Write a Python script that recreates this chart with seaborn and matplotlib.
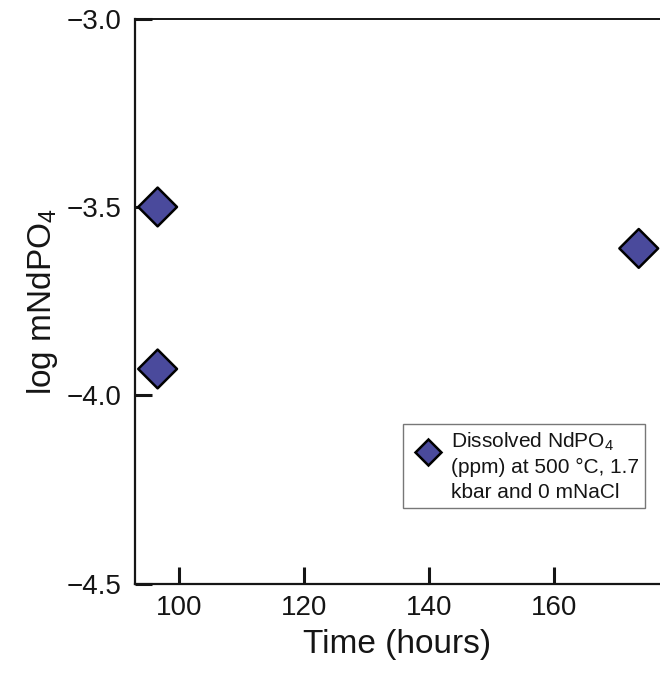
import matplotlib
matplotlib.use("Agg")
import matplotlib.pyplot as plt
import seaborn as sns
import pandas as pd
import numpy as np
from matplotlib.collections import PathCollection
from matplotlib.legend_handler import HandlerPathCollection, HandlerLine2D
from matplotlib.lines import Line2D

time_hours = [96.5, 96.5, 173.5]
log_m_ndpo4 = [-3.50, -3.93, -3.61]
series_label = "Dissolved NdPO$_4$\n(ppm) at 500 °C, 1.7\nkbar and 0 mNaCl"
x_ticks = [100, 120, 140, 160]
y_ticks = [-3.0, -3.5, -4.0, -4.5]

df = pd.DataFrame({"time": time_hours, "logm": log_m_ndpo4,
                   "series": [series_label] * len(time_hours)})

sns.set_style("ticks")
plt.rcParams["font.family"] = ["Liberation Sans", "DejaVu Sans"]
plt.rcParams["mathtext.fontset"] = "custom"
plt.rcParams["mathtext.rm"] = "Liberation Sans"
plt.rcParams["mathtext.it"] = "Liberation Sans"
ink = "#151515"
plt.rcParams["text.color"] = ink
plt.rcParams["axes.labelcolor"] = ink
plt.rcParams["xtick.color"] = ink
plt.rcParams["ytick.color"] = ink

fig = plt.figure(figsize=(6.6, 6.73), dpi=100)
ax = fig.add_axes([134.5 / 660, 1 - 583.7 / 673, 1 - 134.5 / 660, (583.7 - 18.6) / 673])

sns.scatterplot(data=df, x="time", y="logm", hue="series", marker="D", s=390,
                palette=["#4a4a9c"], edgecolor="black", linewidth=1.8,
                ax=ax, zorder=5, clip_on=False)

ax.set_xlim(92.8, 176.9)
ax.set_ylim(-4.5, -3.0)
ax.set_xticks(x_ticks)
ax.set_yticks(y_ticks)
ax.set_yticklabels([f"{v:.1f}".replace("-", "\u2212") for v in y_ticks])
ax.tick_params(direction="in", length=12, width=2.2, labelsize=20, pad=9)
ax.tick_params(axis="x", pad=8)
ax.spines["right"].set_visible(False)
for side in ["left", "bottom"]:
    ax.spines[side].set_linewidth(1.6)
    ax.spines[side].set_color(ink)
ax.spines["top"].set_linewidth(1.4)
ax.spines["top"].set_color(ink)

ax.set_xlabel("Time (hours)", fontsize=24, labelpad=6)
ax.set_ylabel("log mNdPO$_4$", fontsize=24, labelpad=5)

LIFT = 10.0


class LiftedLine(HandlerLine2D):
    def create_artists(self, legend, orig_handle, xdescent, ydescent, width,
                       height, fontsize, trans):
        arts = super().create_artists(legend, orig_handle, xdescent, ydescent,
                                      width, height, fontsize, trans)
        for a in arts:
            if isinstance(a, Line2D):
                a.set_ydata(np.asarray(a.get_ydata(), float) + LIFT)
        return arts


handles, labels = ax.get_legend_handles_labels()
old = ax.get_legend()
if old is not None:
    old.remove()
hmap = {Line2D: LiftedLine(),
        PathCollection: HandlerPathCollection(yoffsets=[0.5 + LIFT / 10.5])}
leg = ax.legend(handles, labels, loc="upper left",
                bbox_to_anchor=(403 / 660, 1 - 424 / 673),
                bbox_transform=fig.transFigure, borderaxespad=0, fontsize=15,
                frameon=True, fancybox=False, edgecolor="#555555", markerscale=0.66,
                handletextpad=0.2, borderpad=0.3, labelspacing=0.2, handlelength=1.8,
                handler_map=hmap)
leg.get_frame().set_linewidth(1.0)
for t in leg.get_texts():
    t.set_linespacing(1.38)
    t.set_multialignment("left")

fig.savefig("out.png", dpi=100)
